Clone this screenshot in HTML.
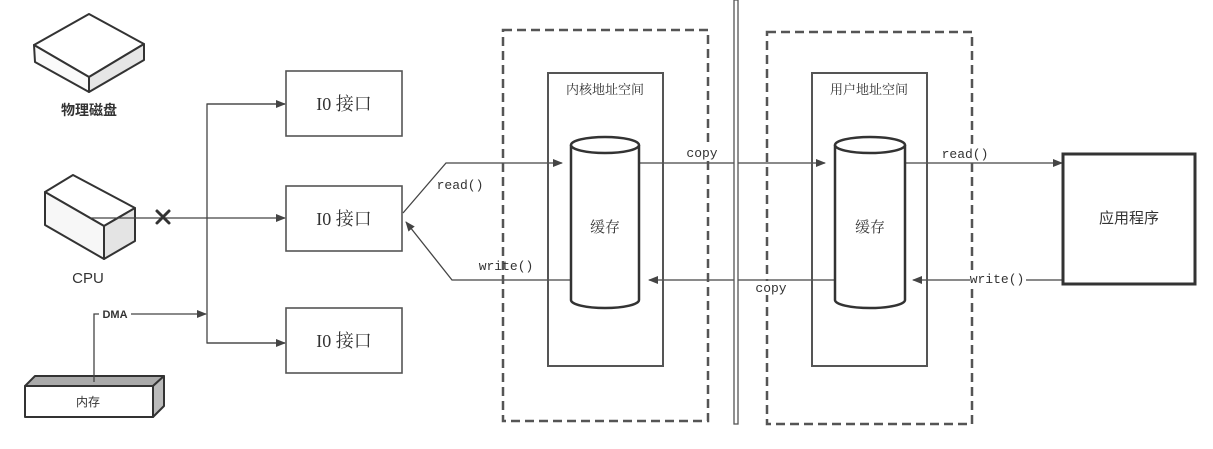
<!DOCTYPE html>
<html><head><meta charset="utf-8"><style>
html,body{margin:0;padding:0;background:#fff;}
svg{display:block;}
text{font-family:"Liberation Serif","Noto Serif CJK SC",serif;fill:#333;}
.cn{font-family:"Liberation Sans","Noto Sans CJK SC",sans-serif;}
.mono{font-family:"Liberation Mono","Noto Sans CJK SC",monospace;font-size:13px;}
</style></head><body>
<svg width="1213" height="449" viewBox="0 0 1213 449" xmlns="http://www.w3.org/2000/svg">
<defs>
<marker id="ar" markerWidth="10" markerHeight="8" refX="9" refY="4" orient="auto" markerUnits="userSpaceOnUse">
<path d="M0,0 L10,4 L0,8 Z" fill="#444"/></marker>
</defs>
<g stroke="#333" stroke-width="2" stroke-linejoin="round">
<!-- disk -->
<path d="M34,45 L89,14 L144,44 L89,77 Z" fill="#fff"/>
<path d="M34,45 L89,77 L89,92 L35,62 Z" fill="#fafafa"/>
<path d="M89,77 L144,44 L144,60 L89,92 Z" fill="#e6e6e6"/>
<!-- cpu -->
<path d="M45,192 L73,175 L135,208 L104,226 Z" fill="#fff"/>
<path d="M45,192 L104,226 L104,259 L45,225 Z" fill="#f7f7f7"/>
<path d="M104,226 L135,208 L135,241 L104,259 Z" fill="#e4e4e4"/>
<!-- memory -->
<path d="M25,386 L35,376 L164,376 L153,386 Z" fill="#aaa"/>
<path d="M153,386 L164,376 L164,406 L153,417 Z" fill="#bbb"/>
<rect x="25" y="386" width="128" height="31" fill="#fff"/>
</g>
<text x="89" y="115" font-size="14" text-anchor="middle" class="cn" font-weight="bold" fill="#555">物理磁盘</text>
<text x="88" y="283" font-size="15" text-anchor="middle" class="cn" fill="#333">CPU</text>
<text x="88" y="406" font-size="12" text-anchor="middle" class="cn" fill="#777">内存</text>

<g stroke="#444" stroke-width="1.3" fill="none">
<line x1="90" y1="218" x2="285" y2="218" marker-end="url(#ar)"/>
<polyline points="285,104 207,104 207,343 285,343" />
<line x1="207" y1="104" x2="285" y2="104" marker-end="url(#ar)"/>
<line x1="207" y1="343" x2="285" y2="343" marker-end="url(#ar)"/>
<polyline points="94,382 94,314 99,314"/>
<line x1="131" y1="314" x2="206" y2="314" marker-end="url(#ar)"/>
<!-- read/write -->
<polyline points="403,213 446,163 562,163" marker-end="url(#ar)"/>
<polyline points="571,280 452,280 406,222" marker-end="url(#ar)"/>
<line x1="639" y1="163" x2="825" y2="163" marker-end="url(#ar)"/>
<line x1="834" y1="280" x2="649" y2="280" marker-end="url(#ar)"/>
<line x1="905" y1="163" x2="1062" y2="163" marker-end="url(#ar)"/>
<line x1="1063" y1="280" x2="913" y2="280" marker-end="url(#ar)"/>
</g>
<g stroke="#333" stroke-width="3" stroke-linecap="round"><line x1="157" y1="211" x2="169" y2="223"/><line x1="169" y1="211" x2="157" y2="223"/></g>
<rect x="99" y="307" width="32" height="14" fill="#fff"/>
<text x="115" y="318" font-size="11" font-weight="bold" text-anchor="middle" class="cn">DMA</text>

<g stroke="#555" stroke-width="1.6" fill="#fff">
<rect x="286" y="71" width="116" height="65"/>
<rect x="286" y="186" width="116" height="65"/>
<rect x="286" y="308" width="116" height="65"/>
</g>
<text x="344" y="110" font-size="18" text-anchor="middle">I0 接口</text>
<text x="344" y="225" font-size="18" text-anchor="middle">I0 接口</text>
<text x="344" y="347" font-size="18" text-anchor="middle">I0 接口</text>

<!-- dashed -->
<g stroke="#555" stroke-width="2.5" fill="none" stroke-dasharray="9,5">
<rect x="503" y="30" width="205" height="391"/>
<rect x="767" y="32" width="205" height="392"/>
</g>
<rect x="548" y="73" width="115" height="293" fill="none" stroke="#555" stroke-width="2"/>
<rect x="812" y="73" width="115" height="293" fill="none" stroke="#555" stroke-width="2"/>
<text x="605" y="94" font-size="13" text-anchor="middle">内核地址空间</text>
<text x="869" y="94" font-size="13" text-anchor="middle">用户地址空间</text>
<!-- divider -->
<rect x="734" y="0" width="4" height="424" fill="#fff" stroke="#555" stroke-width="1.3"/>

<!-- cylinders -->
<g stroke="#333" stroke-width="2.5" fill="#fff">
<path d="M571,145 L571,300 A34,8 0 0 0 639,300 L639,145"/>
<ellipse cx="605" cy="145" rx="34" ry="8"/>
<path d="M835,145 L835,300 A35,8 0 0 0 905,300 L905,145"/>
<ellipse cx="870" cy="145" rx="35" ry="8"/>
</g>
<text x="605" y="232" font-size="15" text-anchor="middle">缓存</text>
<text x="870" y="232" font-size="15" text-anchor="middle">缓存</text>

<rect x="1063" y="154" width="132" height="130" fill="#fff" stroke="#333" stroke-width="3"/>
<text x="1129" y="223" font-size="15" text-anchor="middle" class="cn">应用程序</text>

<rect x="684" y="145" width="36" height="14" fill="#fff"/>
<text x="702" y="157" class="mono" text-anchor="middle">copy</text>
<rect x="754" y="281" width="36" height="14" fill="#fff"/>
<text x="771" y="292" class="mono" text-anchor="middle">copy</text>
<text x="460" y="189" class="mono" text-anchor="middle">read()</text>
<text x="506" y="270" class="mono" text-anchor="middle">write()</text>
<rect x="941" y="145" width="50" height="14" fill="#fff"/>
<text x="965" y="158" class="mono" text-anchor="middle">read()</text>
<rect x="970" y="271" width="56" height="14" fill="#fff"/>
<text x="997" y="283" class="mono" text-anchor="middle">write()</text>
</svg>
</body></html>
